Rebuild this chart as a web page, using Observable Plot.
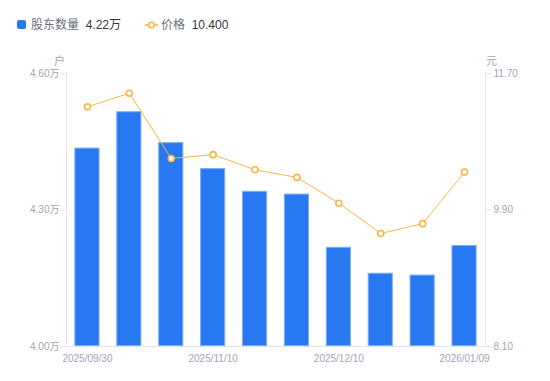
<!DOCTYPE html>
<html>
<head>
<meta charset="utf-8">
<script src="https://cdn.jsdelivr.net/npm/d3@7"></script>
<script src="https://cdn.jsdelivr.net/npm/@observablehq/plot@0.6"></script>
<style>
  html, body { margin: 0; padding: 0; background: #fff; }
  body { width: 550px; height: 381px; overflow: hidden; font-family: "Liberation Sans", Arial, "Noto Sans CJK SC", sans-serif; }
  #legend { position: relative; height: 40px; font-size: 12px; }
  #legend .item { position: absolute; top: 17px; line-height: 16px; white-space: nowrap; }
  #legend .name { color: #6b6e7a; }
  #legend .val { color: #33353d; }
</style>
</head>
<body>
<div id="legend"></div>
<div id="chart"></div>
<script>
// Data
const dates = ["2025/09/30", "2025/10/20", "2025/10/31", "2025/11/10", "2025/11/20", "2025/11/28", "2025/12/10", "2025/12/19", "2025/12/31", "2026/01/09"];
const holders = [4.436, 4.516, 4.448, 4.391, 4.341, 4.335, 4.218, 4.161, 4.157, 4.222]; // 万户
const prices = [11.26, 11.44, 10.58, 10.63, 10.43, 10.33, 9.99, 9.59, 9.72, 10.40]; // 元
const xTickLabels = ["2025/09/30", "2025/11/10", "2025/12/10", "2026/01/09"];
const leftTicks = [4.00, 4.30, 4.60];
const rightTicks = [8.10, 9.90, 11.70];
const seriesNames = ["股东数量", "价格"];
const legendValues = ["4.22万", "10.400"];
const leftUnit = "户";
const rightUnit = "元";

const blue = "#2878f2";
const orange = "#f9b445";
const axisText = "#a2a4b3";
const axisLine = "#e2e3e8";

const data = dates.map((d, i) => ({date: d, count: holders[i], price: prices[i]}));

// map price onto the left (count) scale
const [l0, l1] = [leftTicks[0], leftTicks[leftTicks.length - 1]];
const [r0, r1] = [rightTicks[0], rightTicks[rightTicks.length - 1]];
const toLeft = p => l0 + (p - r0) / (r1 - r0) * (l1 - l0);
const leftTickPos = rightTicks.map(toLeft);

// Legend
const legend = document.getElementById("legend");
legend.innerHTML = `
  <div style="position:absolute;left:17px;top:20px;width:9px;height:9px;border-radius:2px;background:${blue}"></div>
  <div class="item" style="left:31px"><span class="name">${seriesNames[0]}</span>&nbsp;&nbsp;<span class="val">${legendValues[0]}</span></div>
  <svg style="position:absolute;left:145px;top:19px" width="13" height="12">
    <line x1="0" x2="13" y1="6" y2="6" stroke="${orange}" stroke-width="1.5"/>
    <circle cx="6.5" cy="6" r="2.8" fill="#fff" stroke="${orange}" stroke-width="1.5"/>
  </svg>
  <div class="item" style="left:161px"><span class="name">${seriesNames[1]}</span>&nbsp;&nbsp;<span class="val">${legendValues[1]}</span></div>
`;

const chart = Plot.plot({
  width: 550,
  height: 341,
  marginTop: 33,
  marginBottom: 35,
  marginLeft: 66,
  marginRight: 65,
  style: {fontFamily: '"Liberation Sans", Arial, "Noto Sans CJK SC", sans-serif', background: "#fff"},
  x: {type: "band", domain: dates, paddingInner: 0.4, paddingOuter: 0.2, round: false, axis: null},
  y: {domain: [l0, l1], axis: null},
  marks: [
    Plot.frame({anchor: "left", stroke: axisLine}),
    Plot.frame({anchor: "right", stroke: axisLine}),
    Plot.ruleY([l0], {stroke: axisLine}),
    Plot.axisY({anchor: "left", ticks: leftTicks, tickFormat: d => d.toFixed(2) + "万", tickSize: 5, tickPadding: 2, fontSize: 10, color: axisText, stroke: axisLine, label: null}),
    Plot.axisY({anchor: "right", ticks: leftTickPos, tickFormat: (d, i) => rightTicks[i].toFixed(2), tickSize: 5, tickPadding: 3, fontSize: 10, color: axisText, stroke: axisLine, label: null}),
    Plot.axisX({ticks: xTickLabels, tickSize: 0, tickPadding: 8, fontSize: 10, color: axisText, label: null}),
    Plot.text([leftUnit], {frameAnchor: "top-left", dx: -7, dy: -16, fontSize: 11, fill: axisText, textAnchor: "middle"}),
    Plot.text([rightUnit], {frameAnchor: "top-right", dx: 6, dy: -16, fontSize: 11, fill: axisText, textAnchor: "middle"}),
    Plot.barY(data, {x: "date", y1: l0, y2: "count", fill: blue, stroke: "#7eacf5", strokeWidth: 1, inset: 0.5}),
    Plot.line(data, {x: "date", y: d => toLeft(d.price), stroke: orange, strokeWidth: 1}),
    Plot.dot(data, {x: "date", y: d => toLeft(d.price), r: 3, fill: "#fff", stroke: orange, strokeWidth: 1.6})
  ]
});
document.getElementById("chart").appendChild(chart);
</script>
</body>
</html>
